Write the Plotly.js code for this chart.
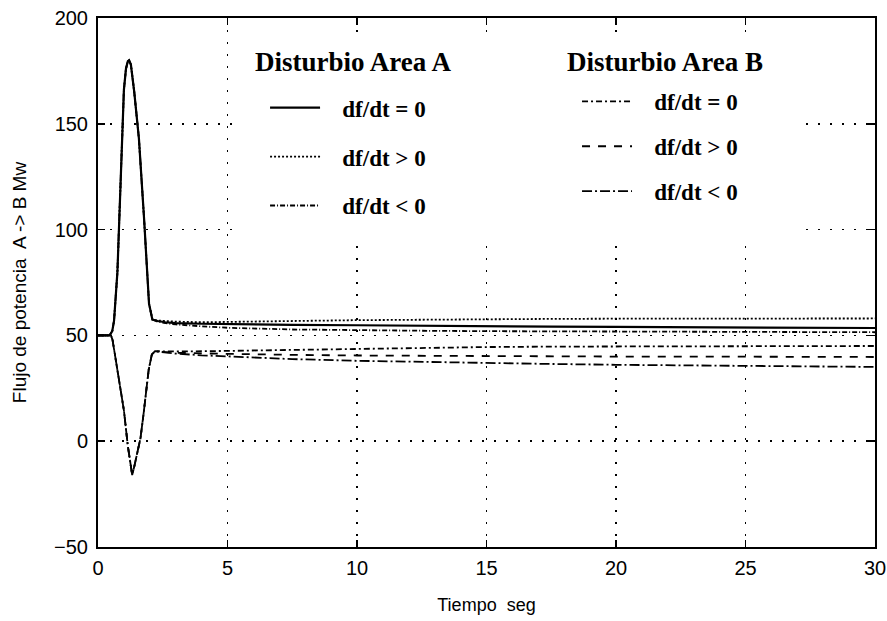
<!DOCTYPE html>
<html>
<head>
<meta charset="utf-8">
<script src="https://cdn.plot.ly/plotly-3.0.1.min.js"></script>
<style>html,body{margin:0;padding:0;background:#fff;}#chart{width:887px;height:621px;}</style>
</head>
<body>
<div id="chart"></div>
<script>
// Time axis (s) for area A disturbance (peak) and area B disturbance (dip)
const tiempoA = [0, 0.45, 0.55, 0.62, 0.75, 0.88, 1.0, 1.08, 1.15, 1.2, 1.27, 1.4, 1.58, 1.78, 1.97, 2.1, 2.3, 2.6, 3, 4, 5, 7.5, 10, 12.5, 15, 17.5, 20, 22.5, 25, 27.5, 30];
const flujoA_cero = [50, 50, 52, 57, 80, 124, 166, 176, 179.5, 180, 178, 165, 143, 105, 65, 57.5, 56.8, 56.2, 55.8, 55.5, 55.3, 55, 54.8, 54.5, 54.3, 54.1, 54, 53.8, 53.7, 53.6, 53.5];
const flujoA_pos  = [50, 50, 52, 57, 80, 124, 166, 176, 179.5, 180, 178, 165, 143, 105, 65, 57.5, 57, 56.8, 56.5, 56.2, 56.3, 56.8, 57.2, 57.5, 57.7, 57.8, 57.9, 58, 58, 58, 58];
const flujoA_neg  = [50, 50, 52, 57, 80, 124, 166, 176, 179.5, 180, 178, 165, 143, 105, 65, 57.5, 56.5, 55.8, 55.2, 54.3, 53.6, 52.8, 52.4, 52.2, 52, 51.9, 51.8, 51.7, 51.6, 51.6, 51.5];

const tiempoB = [0, 0.5, 0.56, 0.7, 0.85, 1.0, 1.15, 1.27, 1.32, 1.4, 1.52, 1.64, 1.75, 1.84, 1.96, 2.08, 2.2, 2.4, 2.7, 3, 4, 5, 7.5, 10, 12.5, 15, 17.5, 20, 22.5, 25, 27.5, 30];
const flujoB_cero = [50, 50, 48, 38, 27, 14.6, -2, -13, -16, -12, -5, 1.4, 12, 22, 34, 41, 42.5, 42.5, 42.4, 42.4, 42.5, 42.7, 43.3, 43.8, 44.2, 44.5, 44.7, 44.8, 44.9, 45, 45, 45];
const flujoB_pos  = [50, 50, 48, 38, 27, 14.6, -2, -13, -16, -12, -5, 1.4, 12, 22, 34, 41, 42.5, 42.3, 42, 41.8, 41.5, 41.2, 40.8, 40.5, 40.3, 40.2, 40.1, 40, 40, 39.9, 39.9, 39.8];
const flujoB_neg  = [50, 50, 48, 38, 27, 14.6, -2, -13, -16, -12, -5, 1.4, 12, 22, 34, 41, 42.5, 42.2, 41.8, 41.4, 40.6, 40, 38.8, 38, 37.4, 36.9, 36.5, 36.1, 35.8, 35.5, 35.3, 35.1];

const legendNames = ['df/dt = 0', 'df/dt &gt; 0', 'df/dt &lt; 0'];
const legendTitles = ['Disturbio Area A', 'Disturbio Area B'];
const xTicks = [0, 5, 10, 15, 20, 25, 30];
const yTicks = [-50, 0, 50, 100, 150, 200];
const xTitle = 'Tiempo  seg';
const yTitle = 'Flujo de potencia  A -&gt; B Mw';

const pad = '\u00a0\u00a0\u00a0';
function tr(x, y, name, dash, width, leg, grp) {
  return {
    x: x, y: y, type: 'scatter', mode: 'lines', name: pad + name,
    line: {color: '#000', width: width, dash: dash},
    legend: leg, legendgroup: grp, hoverinfo: 'skip'
  };
}

const data = [
  tr(tiempoA, flujoA_cero, legendNames[0], 'solid', 2.2, 'legend', 'a0'),
  tr(tiempoA, flujoA_pos, legendNames[1], '2px,2px', 1.8, 'legend', 'a1'),
  tr(tiempoA, flujoA_neg, legendNames[2], '5px,2px,1px,2px', 1.8, 'legend', 'a2'),
  tr(tiempoB, flujoB_cero, legendNames[0], '6px,3px,2px,3px', 1.8, 'legend2', 'b0'),
  tr(tiempoB, flujoB_pos, legendNames[1], '8px,8px', 1.8, 'legend2', 'b1'),
  tr(tiempoB, flujoB_neg, legendNames[2], '10px,3px,2px,3px', 1.8, 'legend2', 'b2')
];

const legFont = {family: 'Liberation Serif, Times New Roman, serif', size: 23, color: '#000', weight: 700};
const layout = {
  width: 887, height: 621,
  margin: {l: 98, r: 12, t: 18, b: 74},
  paper_bgcolor: '#fff', plot_bgcolor: '#fff',
  font: {family: 'Liberation Sans, Arial, sans-serif', color: '#000'},
  showlegend: true,
  xaxis: {
    range: [0, 30], tickvals: xTicks, ticktext: xTicks.map(String),
    showline: true, mirror: 'ticks', linecolor: '#000', linewidth: 2,
    ticks: 'inside', ticklen: 7, tickwidth: 1.5, tickcolor: '#000',
    showgrid: true, gridcolor: '#000', gridwidth: 1.5, griddash: '2px,10px',
    zeroline: false, tickfont: {size: 20}, ticklabelstandoff: 2,
    title: {text: xTitle, font: {size: 18}, standoff: 20}
  },
  yaxis: {
    range: [-50, 200], tickvals: yTicks, ticktext: yTicks.map(v => v < 0 ? '\u2212' + Math.abs(v) : String(v)),
    showline: true, mirror: 'ticks', linecolor: '#000', linewidth: 2,
    ticks: 'inside', ticklen: 7, tickwidth: 1.5, tickcolor: '#000',
    showgrid: true, gridcolor: '#000', gridwidth: 1.5, griddash: '2px,10px',
    zeroline: false, tickfont: {size: 20}, ticklabelstandoff: 4,
    title: {text: yTitle, font: {size: 19}, standoff: 22}
  },
  legend: {
    x: 0.215, xanchor: 'left', y: 0.871, yanchor: 'top',
    bgcolor: 'rgba(0,0,0,0)', borderwidth: 0, font: legFont,
    itemwidth: 50, traceorder: 'grouped', tracegroupgap: 16
  },
  legend2: {
    x: 0.6165, xanchor: 'left', y: 0.883, yanchor: 'top',
    bgcolor: 'rgba(0,0,0,0)', borderwidth: 0, font: legFont,
    itemwidth: 50, traceorder: 'grouped', tracegroupgap: 12
  },
  shapes: [{
    type: 'rect', xref: 'x', yref: 'y', x0: 5.3, x1: 27.3, y0: 96, y1: 190.5,
    fillcolor: '#fff', line: {width: 0}, layer: 'between'
  }],
  annotations: [
    {text: legendTitles[0], xref: 'paper', yref: 'paper', x: 0.2, xanchor: 'left', y: 0.917, yanchor: 'middle', showarrow: false,
     font: {family: 'Liberation Serif, Times New Roman, serif', size: 27, color: '#000', weight: 700}},
    {text: legendTitles[1], xref: 'paper', yref: 'paper', x: 0.601, xanchor: 'left', y: 0.917, yanchor: 'middle', showarrow: false,
     font: {family: 'Liberation Serif, Times New Roman, serif', size: 27, color: '#000', weight: 700}}
  ]
};

Plotly.newPlot('chart', data, layout, {displayModeBar: false, staticPlot: true});
</script>
</body>
</html>
